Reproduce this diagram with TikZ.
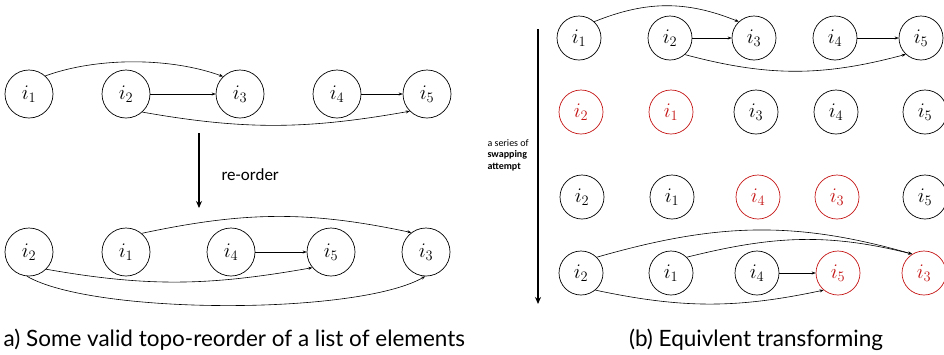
\documentclass[tikz,border=0pt]{standalone}
\usepackage{fontspec}
\setmainfont{Carlito}
\newfontfamily\capfont{Lato}
\usetikzlibrary{arrows.meta}

\definecolor{swapred}{RGB}{196,20,20}

\begin{document}
\begin{tikzpicture}[x=1pt, y=-1pt,
    elem/.style={circle, draw, line width=0.7pt, minimum size=48pt, inner sep=0pt,
        font=\fontsize{21}{21}\selectfont},
    elemsm/.style={elem, minimum size=44pt, font=\fontsize{20}{20}\selectfont},
    dep/.style={-{Stealth[length=4pt, width=3pt]}, line width=0.6pt},
    bigarrow/.style={-{Stealth[length=7pt, width=6pt]}, line width=2pt},
]

    \useasboundingbox (0,0) rectangle (944,354);

    % (a) 元の並び
    \foreach \k/\x in {1/29,2/126,3/240,4/337,5/427} {
        \node[elem] (a\k) at (\x,94) {$i_\k$};
    }
    \draw[dep] (a1.48) to[out=20, in=160, looseness=0.8] (a3.134);
    \draw[dep] (a2) -- (a3);
    \draw[dep] (a4) -- (a5);
    \draw[dep] (a2.-48) to[out=-10, in=-170] (a5.-135);

    % re-order の矢印
    \coordinate (rotop) at (199,133);
    \coordinate (robot) at (199,208);
    \draw[bigarrow] (rotop) -- (robot);
    \node[anchor=west, font=\fontsize{17}{17}\selectfont] (reorder) at (218,175) {re-order};

    % (a) 並べ替え後
    \foreach \k/\x in {2/29,1/126,4/231,5/331,3/426} {
        \node[elem] (b\k) at (\x,252) {$i_\k$};
    }
    \draw[dep] (b1.50) to[out=12, in=168] (b3.127);
    \draw[dep] (b4) -- (b5);
    \draw[dep] (b2.-45) to[out=-10, in=-170] (b5.-140);
    \draw[dep] (b2.-95) to[out=-30, in=-150, looseness=0.5] (b3.-92);

    % (b) 交換の系列
    \coordinate (swtop) at (538,29);
    \coordinate (swbot) at (538,304);
    \draw[bigarrow] (swtop) -- (swbot);
    \node[anchor=west, align=left, font=\fontsize{10}{11.5}\selectfont] (series) at (484,155)
        {a series of\\\textbf{swapping}\\\textbf{attempt}};

    % 1行目
    \foreach \k/\x in {1/579,2/670,3/754,4/835,5/921} {
        \node[elemsm] (c\k) at (\x,38) {$i_\k$};
    }
    \draw[dep] (c1.47) to[out=22, in=158] (c3.133);
    \draw[dep] (c2) -- (c3);
    \draw[dep] (c4) -- (c5);
    \draw[dep] (c2.-48) to[out=-15, in=-165] (c5.-133);

    % 2行目
    \foreach \k/\x/\c in {2/581/swapred,1/671/swapred,3/756/black,4/836/black,5/925/black} {
        \node[elemsm, draw=\c, text=\c] (d\k) at (\x,112) {$i_\k$};
    }

    % 3行目
    \foreach \k/\x/\c in {2/582/black,1/672/black,4/758/swapred,3/837/swapred,5/925/black} {
        \node[elemsm, draw=\c, text=\c] (e\k) at (\x,197) {$i_\k$};
    }

    % 4行目
    \foreach \k/\x/\c in {2/581/black,1/671/black,4/757/black,5/838/swapred,3/924/swapred} {
        \node[elemsm, draw=\c, text=\c] (f\k) at (\x,273) {$i_\k$};
    }
    \draw[dep] (f2.45) to[out=16, in=164] (f3.122);
    \draw[dep] (f1.45) to[out=14, in=166] (f3.122);
    \draw[dep] (f4) -- (f5);
    \draw[dep] (f2.-50) to[out=-12, in=-168] (f5.-130);

    % キャプション
    \node[anchor=west, font=\capfont\fontsize{22.5}{22.5}\selectfont] (capa) at (0,340)
        {a) Some valid topo-reorder of a list of elements};
    \node[font=\capfont\fontsize{22.5}{22.5}\selectfont] (capb) at (756,340)
        {(b) Equivlent transforming};

\end{tikzpicture}
\end{document}
